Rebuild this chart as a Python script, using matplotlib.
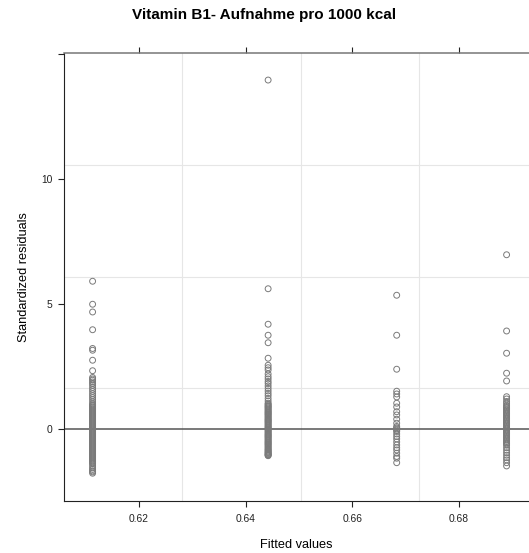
import matplotlib
matplotlib.use("Agg")
import matplotlib.pyplot as plt

plt.rcParams['font.family'] = ['Liberation Sans', 'DejaVu Sans']

# fitted values (one per group) and standardized residuals
fitted = [0.6113, 0.6442, 0.6683, 0.6889]

res1 = [5.91, 4.99, 4.68, 3.97, 3.22, 3.15, 2.75, 2.33,
        2.06, 2.0, 1.95, 1.88, 1.82, 1.75, 1.66, 1.58, 1.5, 1.41, 1.33, 1.25,
        1.17, 1.08, 1.0, 0.96, 0.92, 0.88, 0.84, 0.8, 0.76, 0.72, 0.68, 0.64,
        0.6, 0.56, 0.52, 0.48, 0.44, 0.4, 0.36, 0.32, 0.28, 0.24, 0.2, 0.16,
        0.12, 0.08, 0.04, 0.0, -0.04, -0.08, -0.12, -0.16, -0.2, -0.24, -0.28,
        -0.32, -0.36, -0.4, -0.44, -0.48, -0.52, -0.56, -0.6, -0.64, -0.68,
        -0.72, -0.76, -0.8, -0.84, -0.88, -0.92, -0.96, -1.0, -1.04, -1.08,
        -1.12, -1.16, -1.2, -1.24, -1.28, -1.32, -1.36, -1.4, -1.48, -1.56,
        -1.62, -1.68, -1.72, -1.77]
res2 = [13.96, 5.61, 4.19, 3.75, 3.45, 2.83, 2.55, 2.45, 2.36, 2.2, 2.09,
        2.0, 1.9, 1.82, 1.72, 1.62, 1.52, 1.42, 1.33, 1.22, 1.12, 1.03, 0.99,
        0.95, 0.91, 0.88, 0.84, 0.8, 0.76, 0.72, 0.68, 0.65, 0.61, 0.58, 0.54,
        0.5, 0.46, 0.42, 0.38, 0.35, 0.31, 0.28, 0.24, 0.2, 0.16, 0.12, 0.08,
        0.05, 0.01, -0.02, -0.06, -0.1, -0.14, -0.18, -0.22, -0.25, -0.29,
        -0.32, -0.36, -0.4, -0.44, -0.48, -0.52, -0.55, -0.59, -0.62, -0.66,
        -0.7, -0.74, -0.78, -0.82, -0.85, -0.89, -0.92, -0.95, -0.98, -1.01,
        -1.03, -1.05, -1.07]
res3 = [5.35, 3.75, 2.39, 1.51, 1.4, 1.28, 1.03, 0.88, 0.69, 0.56, 0.39,
        0.23, 0.1, 0.05, 0.0, -0.05, -0.1, -0.2, -0.3, -0.4, -0.52, -0.64,
        -0.75, -0.84, -0.97, -1.1, -1.17, -1.35]
res4 = [6.97, 3.92, 3.03, 2.23, 1.92, 1.29, 1.2, 1.1, 1.03, 0.95, 0.9, 0.85,
        0.8, 0.75, 0.7, 0.65, 0.6, 0.55, 0.5, 0.45, 0.4, 0.35, 0.3, 0.25,
        0.2, 0.15, 0.1, 0.05, 0.0, -0.05, -0.1, -0.15, -0.2, -0.25, -0.3,
        -0.35, -0.4, -0.45, -0.5, -0.55, -0.6, -0.65, -0.75, -0.85, -0.95,
        -1.05, -1.15, -1.24, -1.35, -1.48]
residuals = [res1, res2, res3, res4]

xticks = [0.62, 0.64, 0.66, 0.68]
yticks = [0, 5, 10, 15]
ytick_labels = ['0', '5', '10', '']
vgrid = [0.6281, 0.6503, 0.6724]
hgrid = [1.63, 6.07, 10.55]

fig = plt.figure(figsize=(5.29, 5.53), dpi=100)
ax = fig.add_axes([0.1216, 0.0946, 0.8784, 0.809])

for g in vgrid:
    ax.axvline(g, color='#e6e6e6', lw=0.8, zorder=0)
for g in hgrid:
    ax.axhline(g, color='#e6e6e6', lw=0.8, zorder=0)
ax.axhline(0, color='#555555', lw=1.1, zorder=1)

for f, r in zip(fitted, residuals):
    ax.scatter([f] * len(r), r, s=18, facecolors='none', edgecolors='#7a7a7a',
               linewidths=0.7, zorder=2)

ax.set_xlim(0.606, 0.6931)
ax.set_ylim(-2.87, 15.03)
ax.set_xticks(xticks)
ax.set_xticklabels(['0.62', '0.64', '0.66', '0.68'])
ax.set_yticks(yticks)
ax.set_yticklabels(ytick_labels)
ax.tick_params(axis='both', direction='out', length=4.5, width=0.8,
               labelsize=7.4, colors='#222222')
ax.tick_params(axis='x', top=True, pad=5)
ax.tick_params(axis='y', pad=4)

ax.spines['right'].set_visible(False)
ax.spines['top'].set_color('#777777')
ax.spines['top'].set_linewidth(1.1)
ax.spines['left'].set_color('#222222')
ax.spines['bottom'].set_color('#222222')

ax.set_xlabel('Fitted values', fontsize=9.2, labelpad=11)
ax.set_ylabel('Standardized residuals', fontsize=9.2, labelpad=8)
fig.suptitle('Vitamin B1- Aufnahme pro 1000 kcal', fontsize=11,
             fontweight='bold', y=0.986)

fig.savefig('out.png', dpi=100)
